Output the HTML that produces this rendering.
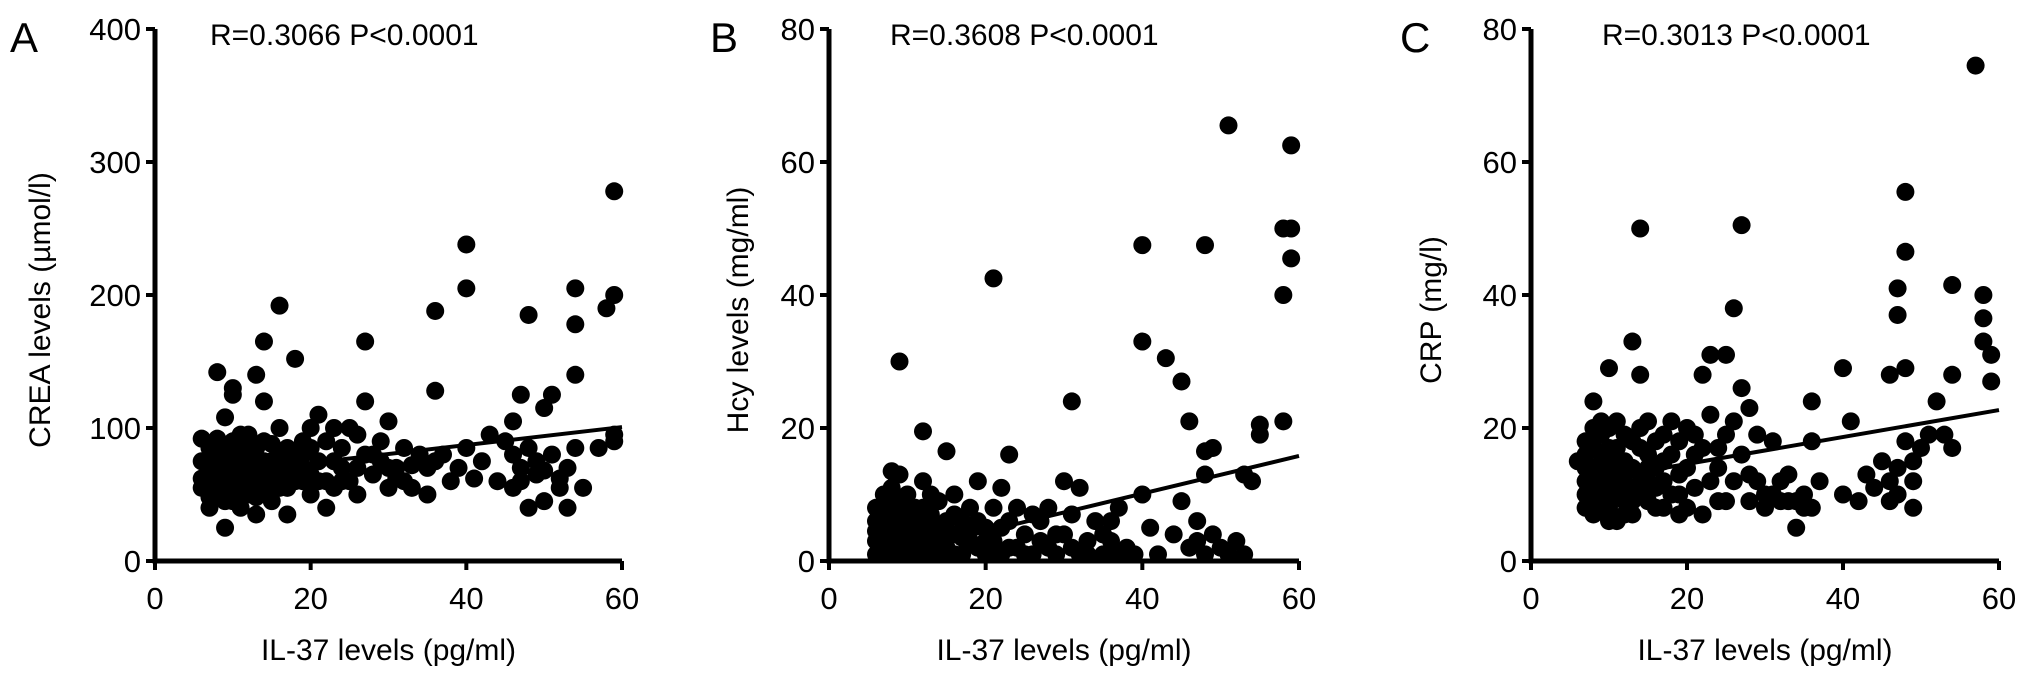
<!DOCTYPE html>
<html><head><meta charset="utf-8"><style>
html,body{margin:0;padding:0;background:#fff}
svg{display:block;font-family:"Liberation Sans",Arial,sans-serif}
</style></head><body>
<svg id="fig" width="2032" height="674" viewBox="0 0 2032 674"></svg>
<script>
const ticksX=[0,20,40,60];
const ticksA=[0,100,200,300,400];
const ticksB=[0,20,40,60,80];
const ticksC=[0,20,40,60,80];
const dataA=[[6,92],[7,60],[7,70],[7,55],[8,65],[8,80],[8,50],[8,142],[9,108],[9,60],[9,75],[9,45],[9,25],[10,130],[10,125],[10,65],[10,90],[10,55],[11,70],[11,80],[11,40],[12,95],[12,60],[12,50],[13,140],[13,85],[13,70],[13,35],[14,165],[14,120],[14,60],[14,90],[15,75],[15,45],[16,192],[16,65],[16,100],[17,55],[17,35],[18,152],[18,80],[18,60],[19,90],[19,70],[20,100],[20,50],[21,110],[21,75],[22,60],[22,40],[22,90],[23,100],[23,55],[24,85],[24,70],[25,100],[25,60],[26,95],[26,50],[27,165],[27,120],[27,80],[28,65],[29,90],[29,75],[30,105],[30,55],[31,70],[32,85],[32,60],[33,55],[34,80],[35,50],[36,188],[36,128],[36,75],[37,80],[38,60],[39,70],[40,205],[40,238],[40,85],[41,62],[42,75],[43,95],[44,60],[45,90],[46,105],[46,55],[47,125],[47,70],[48,185],[48,40],[48,85],[49,65],[50,115],[50,45],[51,125],[51,80],[52,55],[53,40],[53,70],[54,205],[54,178],[54,140],[54,85],[55,55],[57,85],[58,190],[59,278],[59,200],[59,95],[59,90],[7,65],[8,72],[9,85],[10,75],[11,60],[12,78],[13,58],[15,68],[16,80],[17,72],[19,60],[6,62],[7,48],[11,95],[14,75],[6,75],[6,55],[7,85],[7,40],[8,58],[8,92],[9,68],[9,52],[10,45],[10,80],[11,50],[11,65],[12,70],[12,88],[13,62],[13,48],[14,52],[14,68],[15,60],[15,88],[16,55],[17,85],[17,65],[18,70],[19,80],[20,65],[20,85],[21,60],[23,75],[24,60],[26,70],[28,80],[30,70],[31,62],[33,72],[35,70],[46,80],[47,60],[49,75],[50,68],[52,62]];
const dataB=[[9,30],[12,19.5],[15,16.5],[21,42.5],[23,16],[31,24],[40,47.5],[40,33],[43,30.5],[45,27],[46,21],[48,47.5],[48,16.5],[49,17],[51,65.5],[55,20.5],[55,19],[58,21],[58,40],[59,50],[59,62.5],[59,45.5],[58,50],[54,12],[53,13],[6,6],[6,3],[7,8],[7,1],[7,5],[7,10],[8,13.5],[8,2],[8,7],[8,4],[9,9],[9,1],[9,13],[10,6],[10,3],[10,10],[11,2],[11,8],[12,5],[12,12],[13,1],[13,7],[14,3],[14,9],[15,2],[15,6],[16,4],[16,10],[17,1],[17,6],[18,3],[18,8],[19,2],[19,12],[20,5],[20,1],[21,8],[21,3],[22,11],[22,1],[23,6],[24,2],[24,8],[25,4],[26,1],[26,7],[27,3],[28,2],[28,8],[29,1],[30,12],[30,4],[31,2],[32,11],[32,1],[33,3],[34,6],[35,1],[36,3],[37,8],[37,1],[38,2],[40,10],[41,5],[42,1],[44,4],[45,9],[46,2],[47,6],[47,3],[48,13],[48,1],[49,4],[50,2],[51,1],[52,3],[53,1],[6,1],[7,3],[8,9],[9,5],[10,1],[11,4],[12,2],[13,4],[14,1],[6,8],[6,4.5],[7,7],[7,2.5],[8,11],[8,5.5],[9,3],[9,7],[10,8],[10,4.5],[11,6],[11,1],[12,8],[12,3.5],[13,10],[13,2.5],[14,5.5],[15,4],[16,1],[16,7],[17,3.5],[18,5],[19,6],[20,3],[21,1],[22,5],[23,2],[25,1],[27,6],[29,4],[31,7],[33,1],[35,4],[36,6],[39,1]];
const dataC=[[6,15],[7,8],[7,12],[7,18],[7,10],[8,20],[8,24],[8,7],[8,14],[9,16],[9,10],[9,19],[10,29],[10,12],[10,8],[10,17],[11,21],[11,13],[11,6],[12,15],[12,9],[12,19],[13,33],[13,11],[13,7],[14,50],[14,28],[14,17],[14,13],[15,21],[15,9],[16,14],[16,18],[17,8],[17,12],[18,21],[18,16],[19,10],[19,7],[20,20],[20,14],[21,11],[22,28],[22,17],[22,7],[23,31],[23,22],[24,14],[24,9],[25,31],[25,19],[26,38],[26,12],[27,50.5],[27,26],[27,16],[28,23],[28,9],[29,19],[29,12],[30,8],[31,18],[31,10],[32,9],[33,13],[34,9],[34,5],[35,10],[36,24],[36,18],[36,8],[37,12],[40,29],[40,10],[41,21],[42,9],[43,13],[44,11],[45,15],[46,28],[46,9],[47,41],[47,37],[47,14],[48,55.5],[48,46.5],[48,29],[48,18],[49,12],[49,8],[50,17],[51,19],[52,24],[53,19],[54,41.5],[54,17],[54,28],[57,74.5],[58,40],[58,36.5],[58,33],[59,31],[59,27],[9,13],[10,15],[11,17],[12,11],[13,14],[15,12],[7,14],[7,16],[8,9],[8,11],[8,17],[9,8],[9,21],[10,20],[10,6],[11,10],[11,15],[12,7],[12,13],[13,18],[13,9],[14,20],[14,10],[15,16],[15,14],[16,8],[16,11],[17,15],[17,19],[18,10],[19,13],[19,18],[20,8],[21,16],[21,19],[23,12],[24,17],[25,9],[26,21],[28,13],[30,10],[32,12],[33,9],[35,8],[46,12],[47,10],[49,15]];
const fitA=[64.2,100.7];
const fitB=[0.5,15.8];
const fitC=[11.75,22.7];
const titles=["R=0.3066 P<0.0001","R=0.3608 P<0.0001","R=0.3013 P<0.0001"];
const ylabels=["CREA levels (\u00b5mol/l)","Hcy levels (mg/ml)","CRP (mg/l)"];
const letters=["A","B","C"];

const NS="http://www.w3.org/2000/svg";
const svg=document.getElementById('fig');
function mk(t,a,p){const e=document.createElementNS(NS,t);for(const k in a)e.setAttribute(k,a[k]);(p||svg).appendChild(e);return e;}
const panels=[
 {x0:155,x1:622,data:dataA,ticks:ticksA,ymax:400,fit:fitA,lx:40,tx:210,px:10,name:'crea'},
 {x0:829,x1:1299,data:dataB,ticks:ticksB,ymax:80,fit:fitB,lx:738,tx:890,px:710,name:'hcy'},
 {x0:1531,x1:1999,data:dataC,ticks:ticksC,ymax:80,fit:fitC,lx:1431,tx:1602,px:1400,name:'crp'}];
const Y0=561,Y1=29;
panels.forEach((P,i)=>{
 const g=mk('g',{});
 
 
 const sx=v=>P.x0+(v/60)*(P.x1-P.x0);
 const sy=v=>Y0-(v/P.ymax)*(Y0-Y1);
 const pts=mk('g',{},g);
 
 
 P.data.forEach(d=>{const c=mk('circle',{cx:sx(d[0]),cy:sy(d[1]),r:9,fill:'#000'},pts);
  
  });
 const fl=mk('line',{x1:sx(6),y1:sy(P.fit[0]),x2:sx(60),y2:sy(P.fit[1]),stroke:'#000','stroke-width':4},g);
 
 
 const ya=mk('path',{d:`M${P.x0},${Y1} V${Y0} H${P.x1}`,fill:'none',stroke:'#000','stroke-width':5},g);
 
 
 P.ticks.forEach(t=>{mk('line',{x1:P.x0-9,x2:P.x0,y1:sy(t),y2:sy(t),stroke:'#000','stroke-width':4},g);
  const tl=mk('text',{x:P.x0-14,y:sy(t)+11,'text-anchor':'end','font-size':31},g);tl.textContent=t;
  
  });
 ticksX.forEach(t=>{mk('line',{x1:sx(t),x2:sx(t),y1:Y0,y2:Y0+9,stroke:'#000','stroke-width':4},g);
  const tl=mk('text',{x:sx(t),y:609,'text-anchor':'middle','font-size':31},g);tl.textContent=t;
  
  });
 const xt=mk('text',{x:(P.x0+P.x1)/2,y:660,'text-anchor':'middle','font-size':30},g);xt.textContent='IL-37 levels (pg/ml)';
 
 
 const yt=mk('text',{x:0,y:0,'text-anchor':'middle','font-size':30,transform:`translate(${P.lx+10},${(Y0+Y1)/2+15}) rotate(-90)`},g);yt.textContent=ylabels[i];
 
 
 const tt=mk('text',{x:P.tx,y:45,'font-size':30},g);tt.textContent=titles[i];
 
 
 const pl=mk('text',{x:P.px,y:52,'font-size':42},g);pl.textContent=letters[i];
 
 
});
</script>
</body></html>
